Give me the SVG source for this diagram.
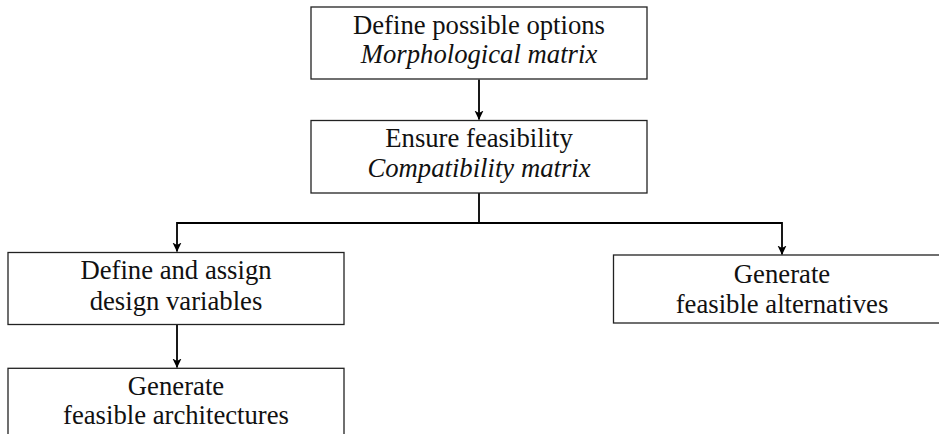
<svg xmlns="http://www.w3.org/2000/svg" width="939" height="434" viewBox="0 0 939 434">
<style>
.box{fill:#fff;stroke:#222;stroke-width:1.3}
.t{font-family:"Liberation Serif","Times New Roman",serif;font-size:26.7px;fill:#111;text-anchor:middle}
.i{font-style:italic}
.c{fill:none;stroke:#000;stroke-width:1.8}
</style>
<defs>
<marker id="ah" markerWidth="12" markerHeight="12" refX="9" refY="5.5" orient="auto" markerUnits="userSpaceOnUse">
<path d="M0,1 L9.5,5.5 L0,10 L2.5,5.5 Z" fill="#000"/>
</marker>
</defs>
<rect width="939" height="434" fill="#fff"/>
<g id="connectors">
<line class="c" x1="479" y1="79.5" x2="479" y2="119.5" marker-end="url(#ah)"/>
<path class="c" d="M479,193 V223 H177 V251.5" marker-end="url(#ah)"/>
<path class="c" d="M479,223 H782 V254.5" marker-end="url(#ah)"/>
<line class="c" x1="177" y1="325" x2="177" y2="367.5" marker-end="url(#ah)"/>
</g>
<g id="n1">
<rect class="box" x="311" y="7" width="336" height="72"/>
<text class="t" x="479" y="33.5">Define possible options</text>
<text class="t i" x="479" y="63">Morphological matrix</text>
</g>
<g id="n2">
<rect class="box" x="311" y="120.5" width="336" height="72.5"/>
<text class="t" x="479" y="147">Ensure feasibility</text>
<text class="t i" x="479" y="177">Compatibility matrix</text>
</g>
<g id="n3">
<rect class="box" x="8" y="252.5" width="336" height="72"/>
<text class="t" x="176" y="279.3">Define and assign</text>
<text class="t" x="176" y="310">design variables</text>
</g>
<g id="n4">
<rect class="box" x="613.5" y="255" width="338" height="68"/>
<text class="t" x="782" y="282.5">Generate</text>
<text class="t" x="782" y="312.5">feasible alternatives</text>
</g>
<g id="n5">
<rect class="box" x="8" y="368.3" width="336" height="72"/>
<text class="t" x="176" y="395">Generate</text>
<text class="t" x="176" y="424">feasible architectures</text>
</g>
</svg>
